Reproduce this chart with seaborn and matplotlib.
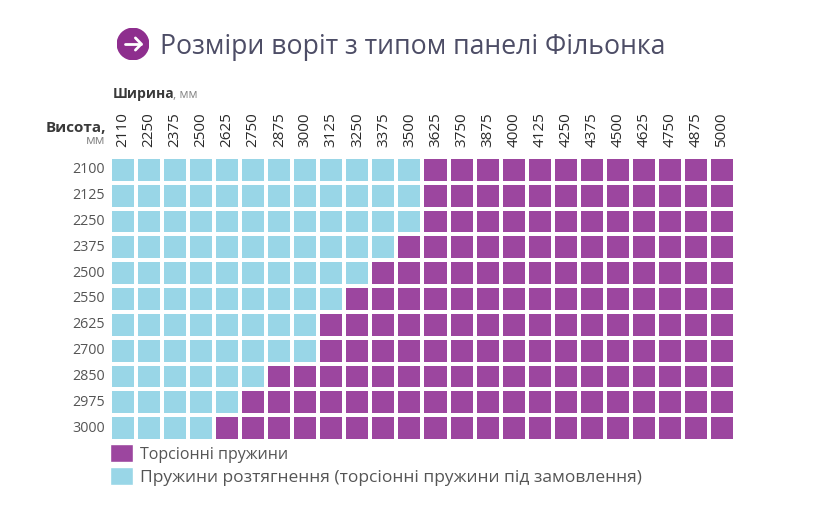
import numpy as np
import pandas as pd
import matplotlib
matplotlib.use("Agg")
import matplotlib.pyplot as plt
from matplotlib.colors import ListedColormap
from matplotlib.patches import Patch, Circle
import seaborn as sns

# ---- data ----
widths = [2110, 2250, 2375, 2500, 2625, 2750, 2875, 3000, 3125, 3250, 3375, 3500,
          3625, 3750, 3875, 4000, 4125, 4250, 4375, 4500, 4625, 4750, 4875, 5000]
heights = [2100, 2125, 2250, 2375, 2500, 2550, 2625, 2700, 2850, 2975, 3000]
# largest width (mm) still served by extension springs, per height row
extension_max_width = [3500, 3500, 3500, 3375, 3250, 3125, 3000, 3000, 2750, 2625, 2500]

title = "Розміри воріт з типом панелі Фільонка"
legend_labels = ["Торсіонні пружини", "Пружини розтягнення (торсіонні пружини під замовлення)"]

PURPLE = "#9C469F"
BLUE = "#99D6E7"

matrix = pd.DataFrame(
    [[1 if w > lim else 0 for w in widths] for lim in extension_max_width],
    index=heights, columns=widths)

sns.set_theme(style="white")
plt.rcParams['font.family'] = ['Open Sans', 'DejaVu Sans']

fig = plt.figure(figsize=(8.2, 5.19), dpi=100)
ax = fig.add_axes([110/820, 1 - 441/519, 625/820, 284/519])

sns.heatmap(matrix, ax=ax, cmap=ListedColormap([BLUE, PURPLE]), vmin=0, vmax=1,
            cbar=False, linewidths=1.5, linecolor="white", square=False)

ax.xaxis.tick_top()
ax.tick_params(axis="x", length=0, pad=7, labelsize=11, labelcolor="#2a2a2a", rotation=90)
ax.tick_params(axis="y", length=0, pad=4, labelsize=10.3, labelcolor="#555555", rotation=0)
for lab in ax.get_yticklabels():
    lab.set_horizontalalignment("right")
ax.set_xlabel("")
ax.set_ylabel("")

# axis captions
fig.text(113/820, 1 - 94/519, "Ширина", fontsize=10, fontweight="bold",
         color="#3a3a3a", ha="left", va="center")
fig.text(173/820, 1 - 95/519, ", мм", fontsize=9, color="#888888", ha="left", va="center")
fig.text(106/820, 1 - 128/519, "Висота,", fontsize=11, fontweight="bold",
         color="#3a3a3a", ha="right", va="center")
fig.text(105/820, 1 - 141/519, "мм", fontsize=9.5, color="#888888", ha="right", va="center")

# title with icon
fig.text(160/820, 1 - 47/519, title, fontsize=19.2, color="#4d4d66", ha="left", va="center")
iax = fig.add_axes([117/820, 1 - 60/519, 32/820, 32/519])
iax.set_xlim(-1, 1); iax.set_ylim(-1, 1); iax.axis("off")
iax.add_patch(Circle((0, 0), 0.98, color="#8E2E8E"))
iax.plot([-0.5, 0.5], [0, 0], color="white", lw=2, solid_capstyle="round")
iax.plot([0.15, 0.52, 0.15], [0.38, 0, -0.38], color="white", lw=2,
         solid_capstyle="round", solid_joinstyle="round")

# legend
handles = [Patch(facecolor=PURPLE, label=legend_labels[0]),
           Patch(facecolor=BLUE, label=legend_labels[1])]
leg = ax.legend(handles=handles, loc="upper left", bbox_to_anchor=(0, -0.012),
                borderaxespad=0, borderpad=0, frameon=False, fontsize=11.5,
                handlelength=1.45, handleheight=1.35, handletextpad=0.4,
                labelspacing=0.3)
for t in leg.get_texts():
    t.set_color("#555555")
leg.get_texts()[1].set_fontsize(12.5)

fig.savefig("out.png", dpi=100)
